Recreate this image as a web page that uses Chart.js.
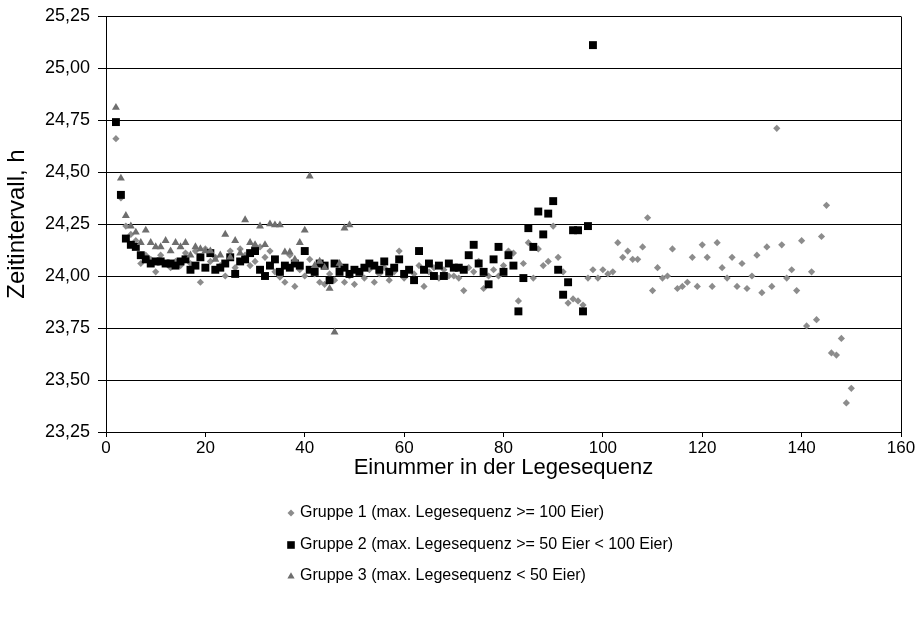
<!DOCTYPE html>
<html><head><meta charset="utf-8">
<script src="https://cdn.jsdelivr.net/npm/chart.js"></script>
<style>html,body{margin:0;padding:0;background:#fff}canvas{display:block}</style>
</head><body>
<canvas id="c" width="924" height="641"></canvas>
<script>
const xTicks = [0, 20, 40, 60, 80, 100, 120, 140, 160];
const yTicks = [23.25, 23.5, 23.75, 24, 24.25, 24.5, 24.75, 25, 25.25];
const yTickLabels = ['23,25', '23,50', '23,75', '24,00', '24,25', '24,50', '24,75', '25,00', '25,25'];
const seriesNames = [
  'Gruppe 1 (max. Legesequenz >= 100 Eier)',
  'Gruppe 2 (max. Legesequenz >= 50 Eier < 100 Eier)',
  'Gruppe 3 (max. Legesequenz < 50 Eier)'
];
const xTitle = 'Einummer in der Legesequenz';
const yTitle = 'Zeitintervall, h';

const g1Eggs = [2,3,4,5,6,7,8,9,10,11,12,13,14,15,16,17,18,19,20,21,22,23,24,25,26,27,28,29,30,31,32,33,34,35,36,37,38,39,40,41,42,43,44,45,46,47,48,49,50,51,52,53,54,55,56,57,58,59,60,61,62,63,64,65,66,67,68,69,70,71,72,73,74,75,76,77,78,79,80,81,82,83,84,85,86,87,88,89,90,91,92,93,94,95,96,97,98,99,100,101,102,103,104,105,106,107,108,109,110,111,112,113,114,115,116,117,118,119,120,121,122,123,124,125,126,127,128,129,130,131,132,133,134,135,136,137,138,139,140,141,142,143,144,145,146,147,148,149,150];
const g1Values = [24.66,24.375,24.24,24.20,24.17,24.06,24.10,24.08,24.02,24.10,24.06,24.04,24.07,24.05,24.11,24.06,24.12,23.97,24.13,24.07,24.09,24.05,24.00,24.12,24.04,24.13,24.10,24.05,24.07,24.14,24.09,24.12,24.02,23.995,23.97,24.10,23.95,24.03,24.00,24.08,24.01,23.97,23.96,24.01,23.98,24.04,23.97,24.00,23.96,24.02,23.99,24.03,23.97,24.01,24.04,23.98,24.02,24.12,23.99,24.03,24.01,24.05,23.95,24.02,24.04,23.99,24.03,24.00,24.00,23.99,23.93,24.04,24.02,24.07,23.94,24.00,24.03,24.00,24.05,24.12,24.11,23.88,24.06,24.16,23.99,24.13,24.05,24.07,24.24,24.09,24.02,23.87,23.89,23.88,23.86,23.99,24.03,23.99,24.03,24.01,24.02,24.16,24.09,24.12,24.08,24.08,24.14,24.28,23.93,24.04,23.99,24.00,24.13,23.94,23.95,23.97,24.09,23.95,24.15,24.09,23.95,24.16,24.04,23.99,24.09,23.95,24.06,23.94,24.00,24.10,23.92,24.14,23.95,24.71,24.15,23.99,24.03,23.93,24.17,23.76,24.02,23.79,24.19,24.34,23.63,23.62,23.70,23.39,23.46];

const g2Eggs = [2,3,4,5,6,7,8,9,10,11,12,13,14,15,16,17,18,19,20,21,22,23,24,25,26,27,28,29,30,31,32,33,34,35,36,37,38,39,40,41,42,43,44,45,46,47,48,49,50,51,52,53,54,55,56,57,58,59,60,61,62,63,64,65,66,67,68,69,70,71,72,73,74,75,76,77,78,79,80,81,82,83,84,85,86,87,88,89,90,91,92,93,94,95,96,97,98];
const g2Values = [24.74,24.39,24.18,24.15,24.14,24.10,24.08,24.06,24.07,24.07,24.06,24.06,24.05,24.07,24.08,24.03,24.05,24.09,24.04,24.11,24.03,24.04,24.06,24.09,24.01,24.07,24.08,24.11,24.12,24.03,24.00,24.05,24.08,24.02,24.05,24.04,24.06,24.05,24.12,24.03,24.02,24.06,24.05,23.98,24.06,24.02,24.04,24.01,24.03,24.02,24.04,24.06,24.05,24.03,24.07,24.02,24.04,24.08,24.01,24.03,23.98,24.12,24.03,24.06,24.00,24.05,24.00,24.06,24.04,24.04,24.03,24.10,24.15,24.06,24.02,23.96,24.08,24.14,24.02,24.10,24.05,23.83,23.99,24.23,24.14,24.31,24.20,24.30,24.36,24.03,23.91,23.97,24.22,24.22,23.83,24.24,25.11];

const g3Eggs = [2,3,4,5,6,7,8,9,10,11,12,13,14,15,16,17,18,19,20,21,22,23,24,25,26,27,28,29,30,31,32,33,34,35,36,37,38,39,40,41,42,43,44,45,46,47,48,49];
const g3Values = [24.81,24.47,24.29,24.24,24.21,24.16,24.22,24.16,24.14,24.14,24.17,24.12,24.16,24.14,24.16,24.10,24.14,24.13,24.12,24.12,24.08,24.10,24.20,24.09,24.17,24.11,24.27,24.16,24.15,24.24,24.15,24.25,24.245,24.245,24.115,24.115,24.08,24.16,24.22,24.48,24.05,24.07,24.04,23.94,23.73,24.06,24.23,24.245];

const FONT = '"Liberation Sans", Arial, sans-serif';
const styles = [
  {pointStyle: 'rectRot', radius: 3.6, color: '#8c8c8c', order: 2},
  {pointStyle: 'rect', radius: 5.6, color: '#000000', order: 1},
  {pointStyle: 'triangle', radius: 4.6, color: '#6e6e6e', order: 0}
];
const pts = (xs, ys) => xs.map((x, i) => ({x: x, y: ys[i]}));
const allData = [pts(g1Eggs, g1Values), pts(g2Eggs, g2Values), pts(g3Eggs, g3Values)];

const frame = {
  id: 'frame',
  beforeDatasetsDraw(chart) {
    const a = chart.chartArea, ctx = chart.ctx;
    ctx.save();
    ctx.strokeStyle = '#000';
    ctx.lineWidth = 1;
    ctx.beginPath();
    ctx.moveTo(Math.round(a.right) + 0.5, Math.round(a.top) + 0.5);
    ctx.lineTo(Math.round(a.right) + 0.5, Math.round(a.bottom) + 0.5);
    ctx.stroke();
    ctx.restore();
  }
};

function marker(ctx, style, x, y, r) {
  ctx.beginPath();
  if (style === 'rect') {
    ctx.rect(x - r, y - r, 2 * r, 2 * r);
  } else if (style === 'rectRot') {
    ctx.moveTo(x - r, y); ctx.lineTo(x, y - r); ctx.lineTo(x + r, y); ctx.lineTo(x, y + r); ctx.closePath();
  } else {
    ctx.moveTo(x, y - r); ctx.lineTo(x + r * 0.95, y + r * 0.65); ctx.lineTo(x - r * 0.95, y + r * 0.65); ctx.closePath();
  }
  ctx.fill();
}

const legend = {
  id: 'customLegend',
  afterDraw(chart) {
    const ctx = chart.ctx;
    const rows = [513, 545, 576];
    const sizes = [3.5, 3.8, 3.8];
    ctx.save();
    ctx.font = '16px ' + FONT;
    ctx.textBaseline = 'middle';
    ctx.textAlign = 'left';
    seriesNames.forEach((name, i) => {
      ctx.fillStyle = styles[i].color;
      marker(ctx, styles[i].pointStyle, 291, rows[i], sizes[i]);
      ctx.fillStyle = '#000';
      ctx.fillText(name, 300, rows[i]);
    });
    ctx.restore();
  }
};

new Chart(document.getElementById('c'), {
  type: 'scatter',
  data: {
    datasets: allData.map((d, i) => ({
      label: seriesNames[i],
      data: d,
      order: styles[i].order,
      pointStyle: styles[i].pointStyle,
      pointRadius: styles[i].radius,
      pointHoverRadius: styles[i].radius,
      backgroundColor: styles[i].color,
      borderColor: styles[i].color,
      borderWidth: 0,
      showLine: false
    }))
  },
  options: {
    responsive: false,
    animation: false,
    events: [],
    layout: {padding: {left: 0, right: 23, top: 16, bottom: 160}},
    plugins: {legend: {display: false}, tooltip: {enabled: false}},
    scales: {
      x: {
        type: 'linear', min: 0, max: 160,
        afterBuildTicks: s => { s.ticks = xTicks.map(v => ({value: v})); },
        ticks: {callback: (v, i) => String(xTicks[i]), color: '#000', font: {family: FONT, size: 17}, padding: 1, maxRotation: 0},
        grid: {drawOnChartArea: false, drawTicks: true, tickLength: 5, color: '#000'},
        border: {display: true, color: '#000', width: 1},
        title: {display: true, text: xTitle, color: '#000', font: {family: FONT, size: 22}, padding: {top: 0, bottom: 0}},
        afterFit: s => { s.height = 49; }
      },
      y: {
        type: 'linear', min: 23.25, max: 25.25,
        afterBuildTicks: s => { s.ticks = yTicks.map(v => ({value: v})); },
        ticks: {callback: (v, i) => yTickLabels[i], color: '#000', font: {family: FONT, size: 18}, padding: 8},
        grid: {color: '#000', lineWidth: 1, drawTicks: true, tickLength: 8},
        border: {display: true, color: '#000', width: 1},
        title: {display: true, text: yTitle, color: '#000', font: {family: FONT, size: 24}, padding: {top: 3, bottom: 0}},
        afterFit: s => { s.width = 106; s.paddingTop = 0; s.paddingBottom = 0; }
      }
    }
  },
  plugins: [frame, legend]
});
</script>
</body></html>
